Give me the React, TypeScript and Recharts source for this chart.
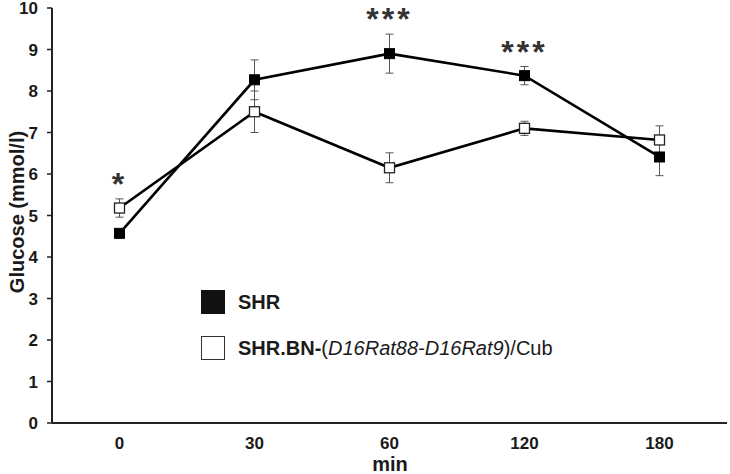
import React from 'react';
import { ComposedChart, Line, XAxis, YAxis, ErrorBar, Legend } from 'recharts';

const categories = ['0', '30', '60', '120', '180'];
const shrValues = [4.57, 8.27, 8.9, 8.37, 6.41];
const shrErrors = [0.1, 0.48, 0.47, 0.22, 0.45];
const bnValues = [5.18, 7.5, 6.15, 7.1, 6.82];
const bnErrors = [0.22, 0.5, 0.36, 0.17, 0.34];
const significance = ['*', '', '***', '***', ''];
const yTicks = [0, 1, 2, 3, 4, 5, 6, 7, 8, 9, 10];

const FONT = '"Liberation Sans", Arial, Helvetica, sans-serif';

const data = categories.map((c, i) => ({
  min: c,
  shr: shrValues[i],
  shrErr: shrErrors[i],
  bn: bnValues[i],
  bnErr: bnErrors[i],
  top: Math.max(shrValues[i] + shrErrors[i], bnValues[i] + bnErrors[i]),
}));

const SIZE = 10;

const BlackSquare = (props: any) => {
  const { cx, cy, index } = props;
  if (cx == null || cy == null) return <g key={`b${index}`} />;
  return (
    <rect key={`b${index}`} x={cx - SIZE / 2} y={cy - SIZE / 2} width={SIZE} height={SIZE} fill="#000" stroke="#000" strokeWidth={1} />
  );
};

const WhiteSquare = (props: any) => {
  const { cx, cy, index } = props;
  if (cx == null || cy == null) return <g key={`w${index}`} />;
  return (
    <rect key={`w${index}`} x={cx - SIZE / 2} y={cy - SIZE / 2} width={SIZE} height={SIZE} fill="#fff" stroke="#222" strokeWidth={1.3} />
  );
};

const StarLabel = (props: any) => {
  const { x, y, index } = props;
  const s = significance[index];
  if (!s) return null;
  return (
    <text x={x} y={y - 4} textAnchor="middle" fontFamily={FONT} fontWeight="bold" fontSize={32} letterSpacing={3} fill="#333">
      {s}
    </text>
  );
};

const renderLegend = () => (
  <div style={{ fontFamily: FONT, fontSize: 20, color: '#1a1a1a', lineHeight: 1 }}>
    <div style={{ display: 'flex', alignItems: 'center', height: 46 }}>
      <span style={{ display: 'inline-block', width: 24, height: 24, background: '#111', marginRight: 13 }} />
      <span style={{ fontWeight: 'bold' }}>SHR</span>
    </div>
    <div style={{ display: 'flex', alignItems: 'center', height: 46 }}>
      <span style={{ display: 'inline-block', width: 24, height: 24, background: '#fff', border: '1.5px solid #333', boxSizing: 'border-box', marginRight: 13 }} />
      <span>
        <b>SHR.BN-</b>(<i>D16Rat88-D16Rat9</i>)/Cub
      </span>
    </div>
  </div>
);

const YLabel = () => (
  <text x={17} y={212} transform="rotate(-90 17 212)" textAnchor="middle" dominantBaseline="central" fontFamily={FONT} fontWeight="bold" fontSize={20} fill="#1a1a1a">
    Glucose (mmol/l)
  </text>
);

const XLabel = () => (
  <text x={390} y={471} textAnchor="middle" fontFamily={FONT} fontWeight="bold" fontSize={20} fill="#1a1a1a">
    min
  </text>
);

export default function App() {
  return (
    <div style={{ position: 'absolute', left: 0, top: 0, background: '#fff' }}>
      <ComposedChart width={730} height={474} data={data} margin={{ top: 8, right: 3, bottom: 0, left: 0 }}>
        <XAxis
          dataKey="min"
          scale="band"
          height={51}
          axisLine={{ stroke: '#222', strokeWidth: 2 }}
          tickLine={false}
          tickMargin={8}
          tick={{ fontFamily: FONT, fontWeight: 'bold', fontSize: 17, fill: '#1a1a1a' }}
          label={<XLabel />}
        />
        <YAxis
          domain={[0, 10]}
          ticks={yTicks}
          width={52}
          interval={0}
          axisLine={{ stroke: '#222', strokeWidth: 2 }}
          tickLine={{ stroke: '#222', strokeWidth: 1.5 }}
          tickSize={5}
          tickMargin={9}
          tick={{ fontFamily: FONT, fontWeight: 'bold', fontSize: 17, fill: '#1a1a1a' }}
          label={<YLabel />}
        />
        <Legend
          layout="vertical"
          align="center"
          verticalAlign="middle"
          content={renderLegend}
          wrapperStyle={{ left: 201, top: 279, width: 'auto' }}
        />
        <Line dataKey="shr" stroke="#000" strokeWidth={2.6} dot={<BlackSquare />} activeDot={false} isAnimationActive={false}>
          <ErrorBar dataKey="shrErr" stroke="#555" strokeWidth={1} width={4} />
        </Line>
        <Line dataKey="bn" stroke="#000" strokeWidth={2.6} dot={<WhiteSquare />} activeDot={false} isAnimationActive={false}>
          <ErrorBar dataKey="bnErr" stroke="#555" strokeWidth={1} width={4} />
        </Line>
        <Line dataKey="top" stroke="none" dot={false} activeDot={false} legendType="none" isAnimationActive={false} label={<StarLabel />} />
      </ComposedChart>
    </div>
  );
}
